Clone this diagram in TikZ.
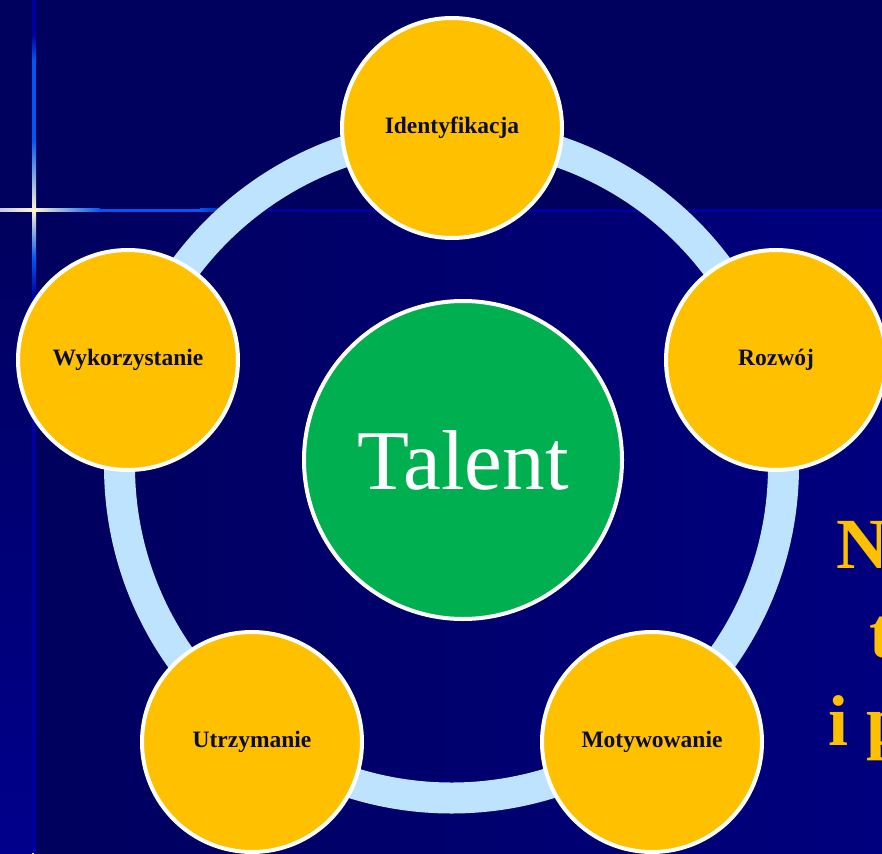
\documentclass[tikz,border=0pt]{standalone}
\usepackage{fontspec}
\setmainfont{Liberation Serif}
\definecolor{bandc}{HTML}{00005E}
\definecolor{lowl}{HTML}{00005E}
\definecolor{lowr}{HTML}{00007E}
\definecolor{stripc}{HTML}{00008C}
\definecolor{faintc}{HTML}{0000A0}
\definecolor{brightb}{HTML}{0058F0}
\definecolor{creamc}{HTML}{FFF6CC}
\definecolor{lavc}{HTML}{C8C8F0}
\definecolor{ringc}{HTML}{BDE3FF}
\definecolor{goldc}{HTML}{FFC000}
\definecolor{greenc}{HTML}{00B050}
\definecolor{labelc}{HTML}{0D0D33}
\tikzset{
  petal/.style={circle, fill=goldc, draw=white, line width=4pt, minimum size=220pt, inner sep=0pt,
    font=\fontsize{23.5}{25}\selectfont\bfseries, text=labelc},
  corec/.style={circle, fill=greenc, draw=white, line width=4pt, minimum size=318pt, inner sep=0pt,
    font=\fontsize{85}{88}\selectfont, text=white},
  titletxt/.style={anchor=base west, inner sep=0pt, text=goldc, font=\fontsize{72}{80}\selectfont\bfseries}
}
\begin{document}
\begin{tikzpicture}[x=1pt,y=-1pt]
\useasboundingbox (0,0) rectangle (882,853);
\clip (0,0) rectangle (882,853);
% background
\fill[bandc] (0,0) rectangle (882,853);
\shade[left color=lowl, right color=lowr] (34,211) rectangle (882,853);
\shade[top color=bandc, bottom color=stripc] (0,211) rectangle (32,853);
% faint lines
\fill[faintc] (0,208.5) rectangle (882,211.5);
\fill[faintc] (32,0) rectangle (36,853);
% sparkle
\shade[left color=lavc, right color=creamc] (0,208.5) rectangle (34,211.5);
\shade[left color=creamc, right color=brightb] (34,208.5) rectangle (100,211.5);
\fill[brightb] (100,208.5) rectangle (200,211.5);
\shade[left color=brightb, right color=faintc] (200,208.5) rectangle (240,211.5);
\shade[top color=faintc, bottom color=brightb] (32,35) rectangle (36,60);
\fill[brightb] (32,60) rectangle (36,140);
\shade[top color=brightb, bottom color=creamc] (32,140) rectangle (36,210);
\shade[top color=creamc, bottom color=brightb] (32,210) rectangle (36,258);
\shade[top color=brightb, bottom color=faintc] (32,258) rectangle (36,295);
% ring
\coordinate (C) at (451.5,466);
\draw[ringc, line width=31pt] (C) circle[radius=332];
% nodes
\node[corec] (talent) at (463,460) {Talent};
\node[petal] (ident) at (452,128) {Identyfikacja};
\node[petal] (rozw) at (776,360) {Rozwój};
\node[petal] (moty) at (652,742) {Motywowanie};
\node[petal] (utrz) at (252,742) {Utrzymanie};
\node[petal] (wyko) at (128,360) {Wykorzystanie};
% partial title
\node[titletxt] (t1) at (836,568) {N};
\node[titletxt] (t2) at (869,657) {t};
\node[titletxt] (t3) at (828,745) {i p};
\end{tikzpicture}
\end{document}
